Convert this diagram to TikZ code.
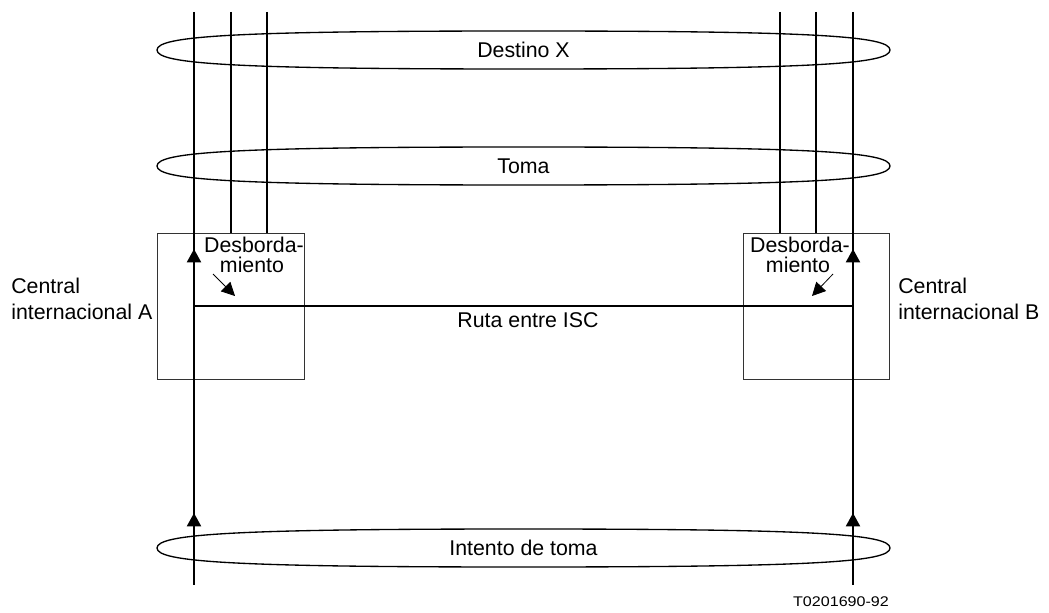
\documentclass[tikz,border=0pt]{standalone}
\usepackage{fontspec}
\setmainfont{Liberation Sans}
\usetikzlibrary{arrows.meta}
\begin{document}
\begin{tikzpicture}[x=0.75pt,y=-0.75pt,
  mainline/.style={line width=1.5pt},
  thinline/.style={line width=1pt},
  boxnode/.style={draw=black!80,line width=0.75pt,inner sep=0pt},
  lbl/.style={inner sep=0pt,font=\fontsize{16}{19}\selectfont},
  uptip/.style={line width=1.5pt,-{Triangle[length=10pt,width=10.5pt]}},
  smalltip/.style={line width=0.6pt,-{Triangle[length=10pt,width=10pt]}},
  lens/.pic={\draw[line width=1pt] (-366.5,0) .. controls (-366.5,-14) and (-290,-19) .. (0,-19) .. controls (290,-19) and (366.5,-14) .. (366.5,0) .. controls (366.5,14) and (290,19) .. (0,19) .. controls (-290,19) and (-366.5,14) .. (-366.5,0);}
]
\useasboundingbox (0,0) rectangle (1049,613);

% boxes (exchanges)
\node[boxnode, minimum width=110.25pt, minimum height=109.5pt] (boxA) at (230.5,306) {};
\node[boxnode, minimum width=109.5pt, minimum height=109.5pt] (boxB) at (816,306) {};

% lenses
\pic at (523.5,50) {lens};
\pic at (523.5,166) {lens};
\pic at (523.5,548) {lens};

% coordinates
\coordinate (Atop) at (194,12);
\coordinate (Abot) at (194,585);
\coordinate (Btop) at (853,12);
\coordinate (Bbot) at (853,585);
\coordinate (a1) at (231,12);
\coordinate (a2) at (267,12);
\coordinate (b1) at (780,12);
\coordinate (b2) at (816,12);
\coordinate (RA) at (194,306);
\coordinate (RB) at (853,306);

% main trunks
\draw[mainline] (Atop) -- (Abot);
\draw[mainline] (Btop) -- (Bbot);
\draw[thinline] (a1) -- (a1 |- boxA.north);
\draw[thinline] (a2) -- (a2 |- boxA.north);
\draw[thinline] (b1) -- (b1 |- boxB.north);
\draw[thinline] (b2) -- (b2 |- boxB.north);
\draw[mainline] (RA) -- (RB);

% arrowheads on trunks
\coordinate (uA1s) at (194,264);
\coordinate (uA1t) at (194,249);
\coordinate (uA2s) at (194,528);
\coordinate (uA2t) at (194,513);
\coordinate (uB1s) at (853,264);
\coordinate (uB1t) at (853,249);
\coordinate (uB2s) at (853,528);
\coordinate (uB2t) at (853,513);
\draw[uptip] (uA1s) -- (uA1t);
\draw[uptip] (uA2s) -- (uA2t);
\draw[uptip] (uB1s) -- (uB1t);
\draw[uptip] (uB2s) -- (uB2t);

% overflow arrows
\coordinate (dAs) at (213,274);
\coordinate (dAt) at (235,296);
\coordinate (dBs) at (833,274);
\coordinate (dBt) at (812,296);
\draw[smalltip] (dAs) -- (dAt);
\draw[smalltip] (dBs) -- (dBt);

% texts
\node[lbl] (tdest) at (523.5,50) {Destino X};
\node[lbl] (ttoma) at (523.5,166) {Toma};
\node[lbl] (tint) at (523.5,548) {Intento de toma};
\node[lbl, anchor=base] (truta) at (528,327) {Ruta entre ISC};
\node[lbl, anchor=base] (tdA1) at (254,252) {Desborda-};
\node[lbl, anchor=base] (tdA2) at (252,272) {miento};
\node[lbl, anchor=base] (tdB1) at (800,252) {Desborda-};
\node[lbl, anchor=base] (tdB2) at (798,272) {miento};
\node[lbl, anchor=base west] (tcA1) at (11,293) {Central};
\node[lbl, anchor=base west] (tcA2) at (11,319) {internacional A};
\node[lbl, anchor=base west] (tcB1) at (898,293) {Central};
\node[lbl, anchor=base west] (tcB2) at (898,319) {internacional B};
\node[inner sep=0pt, anchor=base, font=\fontsize{10.5}{12}\selectfont] (tref) at (841,606) {\scalebox{1.15}[1]{T0201690-92}};
\end{tikzpicture}
\end{document}
